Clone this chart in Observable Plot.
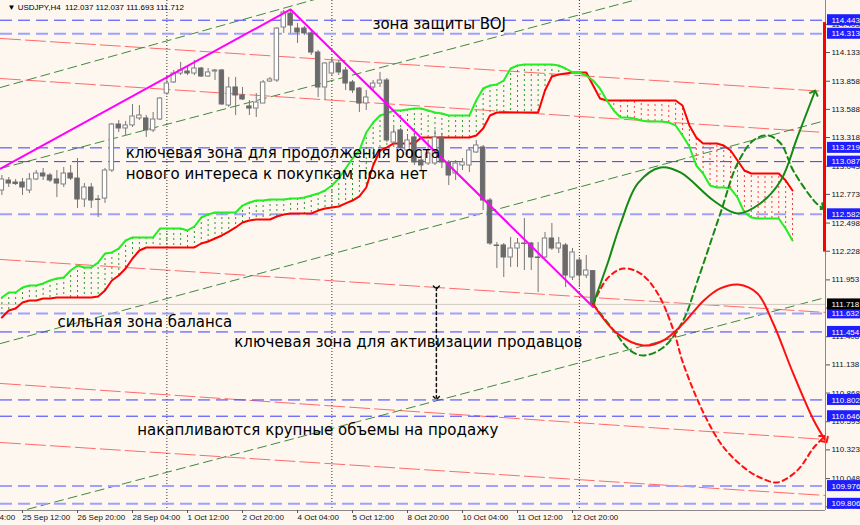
<!DOCTYPE html>
<html><head><meta charset="utf-8">
<script src="https://cdn.jsdelivr.net/npm/d3@7"></script>
<script src="https://cdn.jsdelivr.net/npm/@observablehq/plot@0.6"></script>
<style>
html,body{margin:0;padding:0;background:#fdf7f0;overflow:hidden;}
#chart{width:860px;height:525px;overflow:hidden;}
</style></head><body><div id="chart"></div>
<script>
// ---------- DATA ----------
const xDomain = [-3.2, 116.8];           // bar index range visible
const yDomain = [109.742, 114.632];      // price range visible
const header = "▼ USDJPY,H4  112.037 112.037 111.693 111.712";

const xTickIdx = [-8, 0, 8, 16, 24, 32, 40, 48, 56, 64, 72, 80];
const xTickLabels = ["24 Sep 04:00","25 Sep 12:00","26 Sep 20:00","28 Sep 04:00","1 Oct 12:00","2 Oct 20:00","4 Oct 04:00","5 Oct 12:00","8 Oct 20:00","10 Oct 04:00","11 Oct 12:00","12 Oct 20:00"];
const weekSeparators = [21, 45, 81];
const yTicks = [114.403,114.133,113.858,113.588,113.318,113.043,112.773,112.498,112.228,111.953,111.683,111.408,111.138,110.868,110.593,110.323,110.048,109.778];

const levelDark = [114.443, 113.219, 113.087, 111.454, 110.802, 110.646];
const levelLight = [114.313, 112.582, 111.632, 109.976, 109.806];
const priceNow = 111.718;
const rangeBar = [114.42, 112.22];

// candles (H4), first bar index -3
const firstBar = -3;
const candleOpen = [112.81,112.906,112.887,112.887,112.81,112.916,112.973,112.954,112.916,112.868,112.973,112.925,112.724,112.839,112.724,112.733,113.002,113.443,113.405,113.434,113.501,113.501,113.386,113.491,113.74,113.846,113.932,113.951,113.932,113.98,113.903,113.951,113.961,113.625,113.798,113.721,113.616,113.596,113.644,113.855,113.865,114.373,114.507,114.363,114.363,114.316,114.133,113.798,113.932,114.028,113.961,113.846,113.788,113.644,113.798,113.836,113.865,113.27,113.386,113.194,113.319,113.098,113.069,113.069,113.319,113.079,112.973,113.05,113.05,113.175,113.223,112.714,112.283,112.283,112.168,112.254,112.302,112.302,112.168,112.168,112.35,112.254,112.283,111.976,112.139,111.995,112.037];
const candleHigh = [112.954,112.935,112.916,112.925,112.973,113.002,113.021,112.973,113.002,113.031,113.05,113.117,112.877,112.877,112.762,113.021,113.453,113.481,113.472,113.635,113.625,113.53,113.558,113.702,113.913,113.961,114.038,113.99,114.057,113.99,113.98,113.971,113.971,113.894,113.894,113.798,113.673,113.74,113.865,113.894,114.373,114.536,114.546,114.411,114.383,114.344,114.153,114.037,114.085,114.057,113.99,113.865,113.798,113.769,113.865,113.942,113.884,113.414,113.405,113.338,113.357,113.194,113.29,113.386,113.357,113.098,113.098,113.117,113.213,113.29,113.242,112.734,112.312,112.302,112.36,112.35,112.542,112.312,112.312,112.408,112.494,112.36,112.302,112.254,112.168,112.187,112.037];
const candleLow = [112.762,112.839,112.858,112.762,112.781,112.906,112.906,112.887,112.743,112.839,112.906,112.638,112.647,112.638,112.551,112.686,112.983,113.366,113.338,113.414,113.481,113.319,113.366,113.481,113.721,113.836,113.913,113.913,113.913,113.894,113.894,113.865,113.625,113.606,113.529,113.673,113.529,113.51,113.644,113.846,113.846,114.316,114.316,114.22,114.296,114.105,113.702,113.673,113.913,113.913,113.769,113.74,113.558,113.577,113.769,113.798,113.27,113.221,113.194,113.146,113.05,113.002,113.05,113.05,113.021,112.858,112.906,113.002,112.983,113.165,112.618,112.283,112.062,111.976,112.072,112.072,112.043,112.043,111.832,112.158,112.235,112.206,111.88,111.947,111.88,111.966,111.693];
const candleClose = [112.916,112.877,112.872,112.839,112.916,112.973,112.945,112.906,112.877,112.973,112.925,112.724,112.839,112.714,112.719,113.002,113.443,113.405,113.434,113.52,113.53,113.386,113.491,113.692,113.836,113.932,113.961,113.932,113.98,113.903,113.942,113.961,113.635,113.798,113.721,113.683,113.596,113.654,113.846,113.875,114.363,114.517,114.392,114.325,114.316,114.133,113.798,114.028,114.037,113.942,113.836,113.769,113.644,113.702,113.836,113.865,113.29,113.366,113.221,113.29,113.079,113.05,113.165,113.319,113.079,112.954,113.069,113.079,113.194,113.242,112.714,112.302,112.278,112.168,112.254,112.302,112.297,112.168,112.163,112.35,112.254,112.302,111.995,112.216,111.995,112.043,111.712];

// Ichimoku cloud spans, first bar index -3
const spanA = [111.784,111.832,111.832,111.880,111.899,111.899,111.919,111.947,111.966,111.976,
112.043,112.091,112.072,112.072,112.120,112.206,112.216,112.254,112.331,112.360,
112.360,112.360,112.360,112.446,112.446,112.446,112.446,112.427,112.465,112.551,
112.580,112.599,112.599,112.599,112.599,112.666,112.695,112.714,112.714,112.724,
112.724,112.724,112.734,112.734,112.743,112.762,112.781,112.810,112.858,112.925,
113.021,113.117,113.194,113.366,113.462,113.529,113.549,113.577,113.577,113.587,
113.596,113.596,113.577,113.558,113.549,113.529,113.529,113.529,113.529,113.673,
113.788,113.817,113.827,113.865,113.980,114.009,114.018,114.018,114.018,114.018,
114.018,114.009,113.980,113.942,113.942,113.913,113.865,113.788,113.673,113.577,
113.510,113.510,113.501,113.481,113.472,113.472,113.472,113.462,113.434,113.338,
113.232,113.050,112.973,112.858,112.839,112.839,112.829,112.743,112.599,112.551,
112.542,112.542,112.542,112.542,112.446,112.331];
const spanB = [111.593,111.660,111.679,111.736,111.756,111.756,111.775,111.775,111.784,111.784,
111.784,111.784,111.784,111.784,111.794,111.851,111.947,111.995,112.062,112.158,
112.235,112.264,112.264,112.264,112.264,112.264,112.264,112.264,112.264,112.302,
112.321,112.350,112.379,112.417,112.456,112.503,112.523,112.532,112.532,112.532,
112.561,112.580,112.590,112.590,112.590,112.590,112.618,112.638,112.647,112.657,
112.686,112.714,112.753,112.839,113.050,113.194,113.223,113.261,113.261,113.261,
113.261,113.319,113.319,113.319,113.319,113.319,113.319,113.319,113.319,113.338,
113.405,113.529,113.558,113.558,113.558,113.558,113.558,113.558,113.558,113.769,
113.903,113.922,113.932,113.942,113.942,113.942,113.817,113.692,113.673,113.673,
113.673,113.673,113.673,113.673,113.673,113.673,113.673,113.673,113.673,113.625,
113.434,113.319,113.261,113.261,113.261,113.242,113.194,113.098,113.002,112.973,
112.973,112.973,112.973,112.973,112.906,112.810];

// channel lines: price at left edge and right edge
const redChannelStart = [114.268, 113.884, 112.149, 110.960, 110.394];
const redChannelEnd   = [113.760, 113.366, 111.641, 110.423, 109.886];
const greenChannelStart = [113.798, 113.021, 111.343, 109.685];
const greenChannelEnd   = [116.013, 115.121, 113.481, 111.784];

// magenta trend line: [bar, price]
const magentaLine = [[-3.2, 113.021], [39, 114.546], [83, 111.693]];

// forecast paths: [bar, price]
const greenSolid = [[83,111.72],[85.1,112.11],[87,112.494],[89.5,112.878],[92.8,113.031],[95.7,112.983],[100.5,112.714],[104,112.59],[107.3,112.686],[110.3,112.906],[112.7,113.319],[115.2,113.75]];
const greenDashed = [[83,111.72],[86,111.468],[88.4,111.276],[90.3,111.228],[93.2,111.305],[96.1,111.564],[98.2,111.947],[101.5,112.59],[104,113.069],[106.3,113.29],[108.4,113.338],[110.3,113.261],[112.1,113.002],[115.1,112.714],[116.2,112.647]];
const redSolid = [[83,111.72],[86.5,111.44],[90.3,111.324],[93.2,111.372],[96.1,111.535],[99.1,111.756],[101.5,111.871],[104.1,111.909],[106.9,111.823],[109.2,111.535],[112.1,111.056],[115.1,110.605],[116.8,110.413]];
const redDashed = [[83,111.72],[85.1,111.97],[87.4,112.062],[89.9,112.014],[92.4,111.823],[94.7,111.468],[96.1,111.152],[99.1,110.672],[102,110.346],[105.5,110.126],[107.6,110.049],[109.8,110.011],[112.7,110.126],[115.1,110.346],[116.5,110.442]];
const doubleArrow = [[60.2, 111.88], [60.2, 110.82]];

// annotations
const noteText = ["зона защиты BOJ","ключевая зона для продолжения роста","нового интереса к покупкам пока нет","сильная зона баланса","ключевая зона для активизации продавцов","накапливаются крупные объемы на продажу"];
const noteBar = [50.9, 15, 15, 5.1, 30.8, 16.7];
const notePrice = [114.402, 113.165, 112.964, 111.545, 111.353, 110.51];

// ---------- BUILD ----------
const candles = candleOpen.map((o, k) => ({i: firstBar + k, o, h: candleHigh[k], l: candleLow[k], c: candleClose[k]}));
const cloud = spanA.map((a, k) => ({i: firstBar + k, a, b: spanB[k]}));
const redCh = redChannelStart.map((s, k) => [[xDomain[0], s], [xDomain[1], redChannelEnd[k]]]);
const greenCh = greenChannelStart.map((s, k) => [[xDomain[0], s], [xDomain[1], greenChannelEnd[k]]]);
const notes = noteText.map((t, k) => ({t, x: noteBar[k], y: notePrice[k]}));
const blueLabels = [...levelDark, ...levelLight];
const fontA = "Liberation Sans, Arial, sans-serif";
const barPx = 825 / (xDomain[1] - xDomain[0]);      // pixels per bar
const pxPrice = (yDomain[1] - yDomain[0]) / 510;    // price per pixel
const labelX1 = xDomain[1] + 2 / barPx, labelX2 = xDomain[1] + 36 / barPx;
const labelHalf = 5.5 * pxPrice;

const marks = [];
redCh.forEach(seg => marks.push(Plot.line(seg, {x: d => d[0], y: d => d[1], stroke: "#ff6a6a", strokeWidth: 1, strokeDasharray: "20,5", clip: true})));
greenCh.forEach(seg => marks.push(Plot.line(seg, {x: d => d[0], y: d => d[1], stroke: "#3f8a3f", strokeWidth: 1, strokeDasharray: "9,5", clip: true})));
marks.push(
  Plot.ruleX(weekSeparators, {stroke: "#333", strokeWidth: 1, strokeDasharray: "1,2"}),
  Plot.ruleY(levelDark, {stroke: "#3a3aff", strokeWidth: 1, strokeDasharray: "12,6"}),
  Plot.ruleY(levelLight, {stroke: "#a0a0ff", strokeWidth: 2, strokeDasharray: "12,6"}),
  Plot.ruleY([priceNow], {stroke: "#cfcac4", strokeWidth: 1}),
  // cloud hatch
  Plot.ruleX(cloud.filter(d => d.a >= d.b), {x: "i", y1: "a", y2: "b", stroke: "#2a9a2a", strokeWidth: 1, strokeDasharray: "2,3"}),
  Plot.ruleX(cloud.filter(d => d.a < d.b), {x: "i", y1: "a", y2: "b", stroke: "#ff3a3a", strokeWidth: 1, strokeDasharray: "2,3"}),
  Plot.line(cloud, {x: "i", y: "b", stroke: "#ff0000", strokeWidth: 2}),
  Plot.line(cloud, {x: "i", y: "a", stroke: "#22ee22", strokeWidth: 2}),
  // candles
  Plot.ruleX(candles, {x: "i", y1: "l", y2: "h", stroke: "#777", strokeWidth: 1}),
  Plot.rect(candles, {x1: d => d.i - 0.32, x2: d => d.i + 0.32, y1: "o", y2: "c",
    fill: d => d.c >= d.o ? "#ffffff" : "#6a6a6a", stroke: d => d.c >= d.o ? "#808080" : "#6a6a6a", strokeWidth: 1}),
  // magenta trend
  Plot.line(magentaLine, {x: d => d[0], y: d => d[1], stroke: "#ff00ff", strokeWidth: 2, clip: true}),
  // forecasts
  Plot.line(greenDashed, {x: d => d[0], y: d => d[1], stroke: "#138a13", strokeWidth: 2, strokeDasharray: "6,4", curve: "catmull-rom", markerEnd: "arrow"}),
  Plot.line(redDashed, {x: d => d[0], y: d => d[1], stroke: "#ff1010", strokeWidth: 2, strokeDasharray: "5,4", curve: "catmull-rom", markerEnd: "arrow"}),
  Plot.line(greenSolid, {x: d => d[0], y: d => d[1], stroke: "#138a13", strokeWidth: 2, curve: "catmull-rom", markerEnd: "arrow"}),
  Plot.line(redSolid, {x: d => d[0], y: d => d[1], stroke: "#ff1010", strokeWidth: 2, curve: "catmull-rom", markerEnd: "arrow"}),
  Plot.line(doubleArrow, {x: d => d[0], y: d => d[1], stroke: "#111", strokeWidth: 1.5, strokeDasharray: "3,3", markerStart: "arrow", markerEnd: "arrow"}),
  // annotations
  Plot.text(notes, {x: "x", y: "y", text: "t", textAnchor: "start", fontSize: 15, fontFamily: "DejaVu Sans, sans-serif", fill: "#000"}),
  Plot.text([header], {frameAnchor: "top-left", text: d => d, dx: 7, dy: 4, fontSize: 8, fontFamily: fontA, fill: "#000", textAnchor: "start"}),
  // borders
  Plot.ruleX([xDomain[1]], {stroke: "#8a8a8a", strokeWidth: 1}),
  Plot.ruleY([yDomain[0]], {stroke: "#8a8a8a", strokeWidth: 1}),
  Plot.ruleX([xDomain[1]], {y1: rangeBar[0], y2: rangeBar[1], stroke: "#ff0000", strokeWidth: 3, dx: -1}),
  // axes
  Plot.axisY(yTicks, {anchor: "right", tickFormat: d3.format(".3f"), tickSize: 4, tickPadding: 2, fontSize: 8, fontFamily: fontA, fill: "#111", stroke: "#555", textAnchor: "start"}),
  Plot.axisX(xTickIdx, {anchor: "bottom", tickFormat: d => xTickLabels[xTickIdx.indexOf(d)], tickSize: 3, tickPadding: 1, fontSize: 8, fontFamily: fontA, fill: "#111", stroke: "#555", textAnchor: "start"}),
  // highlighted price labels
  Plot.rect(blueLabels, {x1: labelX1, x2: labelX2, y1: d => d - labelHalf, y2: d => d + labelHalf, fill: "#1e1eff"}),
  Plot.rect([priceNow], {x1: labelX1, x2: labelX2, y1: d => d - labelHalf, y2: d => d + labelHalf, fill: "#000000"}),
  Plot.text([...blueLabels, priceNow], {x: xDomain[1], y: d => d, text: d => d3.format(".3f")(d), dx: 6, textAnchor: "start", fontSize: 8, fontFamily: fontA, fill: "#ffffff"})
);

const plot = Plot.plot({
  width: 860, height: 525,
  marginLeft: 0, marginRight: 35, marginTop: 0, marginBottom: 15,
  style: {background: "#fdf7f0", overflow: "hidden"},
  x: {domain: xDomain, label: null},
  y: {domain: yDomain, label: null},
  marks
});
document.getElementById("chart").append(plot);
</script>
</body></html>
